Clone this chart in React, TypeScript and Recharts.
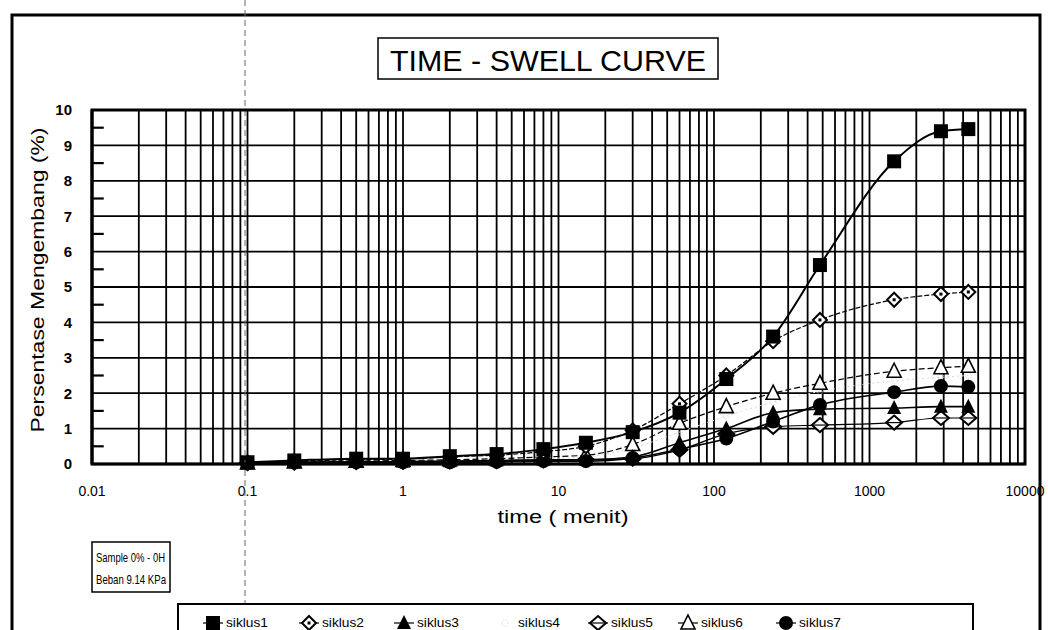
import React from "react";
import {
  LineChart,
  Line,
  XAxis,
  YAxis,
  CartesianGrid,
  ReferenceLine,
} from "recharts";

// waktu pembacaan (menit)
const times = [0.1, 0.2, 0.5, 1, 2, 4, 8, 15, 30, 60, 120, 240, 480, 1440, 2880, 4320];

// persentase mengembang (%) tiap siklus
const siklus1 = [0.05, 0.1, 0.15, 0.15, 0.22, 0.28, 0.42, 0.6, 0.9, 1.45, 2.4, 3.6, 5.62, 8.55, 9.4, 9.46];
const siklus2 = [0.04, 0.08, 0.12, 0.14, 0.2, 0.25, 0.35, 0.5, 0.95, 1.7, 2.5, 3.47, 4.07, 4.64, 4.8, 4.86];
const siklus3 = [0.02, 0.05, 0.06, 0.07, 0.08, 0.1, 0.12, 0.12, 0.2, 0.6, 1.0, 1.45, 1.55, 1.58, 1.62, 1.62];
const siklus4 = [0.03, 0.05, 0.07, 0.08, 0.1, 0.12, 0.15, 0.2, 0.45, 0.9, 1.35, 1.75, 2.05, 2.35, 2.45, 2.5];
const siklus5 = [0.02, 0.04, 0.05, 0.06, 0.07, 0.08, 0.1, 0.12, 0.15, 0.4, 0.85, 1.05, 1.1, 1.17, 1.3, 1.3];
const siklus6 = [0.03, 0.06, 0.08, 0.1, 0.12, 0.15, 0.2, 0.25, 0.55, 1.15, 1.62, 2.0, 2.28, 2.62, 2.72, 2.76];
const siklus7 = [0.02, 0.04, 0.05, 0.05, 0.05, 0.06, 0.08, 0.08, 0.17, 0.42, 0.72, 1.2, 1.67, 2.03, 2.2, 2.18];

const xTicks = [0.01, 0.1, 1, 10, 100, 1000, 10000];
const yTicks = [0, 1, 2, 3, 4, 5, 6, 7, 8, 9, 10];
const yMinorTicks = [0.5, 1.5, 2.5, 3.5, 4.5, 5.5, 6.5, 7.5, 8.5, 9.5];

const data = times.map((t, i) => ({
  t,
  s1: siklus1[i],
  s2: siklus2[i],
  s3: siklus3[i],
  s4: siklus4[i],
  s5: siklus5[i],
  s6: siklus6[i],
  s7: siklus7[i],
}));

// garis grid log (1..9 tiap dekade)
const gridX: number[] = [];
[0.01, 0.1, 1, 10, 100, 1000].forEach((d) => {
  for (let m = 1; m <= 9; m++) {
    if (d === 0.01 && m === 1) continue;
    gridX.push(+(d * m).toPrecision(3));
  }
});

const FONT = "'Liberation Sans', Arial, sans-serif";

type Kind = "s1" | "s2" | "s3" | "s4" | "s5" | "s6" | "s7";

function Marker({ kind, cx, cy }: { kind: Kind; cx: number; cy: number }) {
  switch (kind) {
    case "s1":
      return <rect x={cx - 7} y={cy - 7} width={14} height={14} fill="#000" />;
    case "s2":
      return (
        <g>
          <polygon
            points={`${cx},${cy - 7} ${cx + 7},${cy} ${cx},${cy + 7} ${cx - 7},${cy}`}
            fill="#fff"
            stroke="#000"
            strokeWidth={2}
          />
          <rect x={cx - 1.5} y={cy - 1.5} width={3} height={3} fill="#000" />
        </g>
      );
    case "s3":
      return (
        <polygon
          points={`${cx},${cy - 8} ${cx + 7},${cy + 6} ${cx - 7},${cy + 6}`}
          fill="#000"
        />
      );
    case "s4":
      return <circle cx={cx} cy={cy} r={3} fill="none" stroke="#d6d6d6" strokeWidth={1} strokeDasharray="1 1" />;
    case "s5":
      return (
        <g>
          <polygon
            points={`${cx},${cy - 7} ${cx + 8},${cy} ${cx},${cy + 7} ${cx - 8},${cy}`}
            fill="#fff"
            stroke="#000"
            strokeWidth={2}
          />
          <line x1={cx - 8} x2={cx + 8} y1={cy} y2={cy} stroke="#000" strokeWidth={1.2} />
        </g>
      );
    case "s6":
      return (
        <polygon
          points={`${cx},${cy - 8} ${cx + 7},${cy + 6} ${cx - 7},${cy + 6}`}
          fill="#fff"
          stroke="#000"
          strokeWidth={1.6}
        />
      );
    case "s7":
      return <circle cx={cx} cy={cy} r={7} fill="#000" />;
  }
  return null;
}

const dotFor = (kind: Kind) => (p: any) => {
  if (p.cx == null || p.cy == null) return <g key={`${kind}-${p.index}`} />;
  return (
    <g key={`${kind}-${p.index}`}>
      <Marker kind={kind} cx={p.cx} cy={p.cy} />
    </g>
  );
};

const series: { key: Kind; name: string; stroke: string; width: number; dash?: string }[] = [
  { key: "s4", name: "siklus4", stroke: "#d9d9d9", width: 1, dash: "2 3" },
  { key: "s5", name: "siklus5", stroke: "#000", width: 1.2 },
  { key: "s6", name: "siklus6", stroke: "#000", width: 1.2, dash: "6 3" },
  { key: "s7", name: "siklus7", stroke: "#000", width: 1.6 },
  { key: "s3", name: "siklus3", stroke: "#000", width: 1.6 },
  { key: "s2", name: "siklus2", stroke: "#000", width: 1.2, dash: "5 2" },
  { key: "s1", name: "siklus1", stroke: "#000", width: 2 },
];

const legendItems: { key: Kind; name: string; x: number }[] = [
  { key: "s1", name: "siklus1", x: 213 },
  { key: "s2", name: "siklus2", x: 309 },
  { key: "s3", name: "siklus3", x: 404 },
  { key: "s4", name: "siklus4", x: 505 },
  { key: "s5", name: "siklus5", x: 598 },
  { key: "s6", name: "siklus6", x: 688 },
  { key: "s7", name: "siklus7", x: 786 },
];

function Overlay() {
  return (
    <svg
      width={1048}
      height={630}
      style={{ position: "absolute", left: 0, top: 0, pointerEvents: "none" }}
      fontFamily={FONT}
    >
      {/* bingkai luar */}
      <rect x={12} y={15} width={1028} height={640} fill="none" stroke="#000" strokeWidth={3} />
      {/* garis lipatan */}
      <line x1={245} x2={245} y1={0} y2={630} stroke="#666" strokeWidth={1} strokeDasharray="6 4" />
      {/* judul */}
      <rect x={378} y={38} width={340} height={41} fill="#fff" stroke="#000" strokeWidth={1.5} />
      <text x={548} y={71} textAnchor="middle" fontSize={30} textLength={316} lengthAdjust="spacingAndGlyphs">
        TIME - SWELL CURVE
      </text>
      {/* label sumbu */}
      <text
        x={0}
        y={0}
        transform="translate(44,280) rotate(-90)"
        textAnchor="middle"
        fontSize={18}
        textLength={305}
        lengthAdjust="spacingAndGlyphs"
      >
        Persentase Mengembang (%)
      </text>
      <text x={563} y={523} textAnchor="middle" fontSize={19} textLength={131} lengthAdjust="spacingAndGlyphs">
        time ( menit)
      </text>
      {/* kotak keterangan */}
      <rect x={92} y={542} width={78} height={50} fill="#fff" stroke="#000" strokeWidth={1.5} />
      <text x={96} y={562} fontSize={13} textLength={69} lengthAdjust="spacingAndGlyphs">
        Sample 0% - 0H
      </text>
      <text x={96} y={584} fontSize={13} textLength={70} lengthAdjust="spacingAndGlyphs">
        Beban 9.14 KPa
      </text>
      {/* legenda */}
      <rect x={178} y={604} width={795} height={33} fill="#fff" stroke="#000" strokeWidth={2} />
      {legendItems.map((it) => (
        <g key={it.key}>
          {it.key !== "s4" && (
            <line x1={it.x - 10} x2={it.x + 10} y1={623} y2={623} stroke="#000" strokeWidth={1.2} />
          )}
          <Marker kind={it.key} cx={it.x} cy={623} />
          <text x={it.x + 13} y={627} fontSize={13} textLength={42} lengthAdjust="spacingAndGlyphs">
            {it.name}
          </text>
        </g>
      ))}
      {/* bingkai area plot */}
      <rect x={92} y={110} width={933} height={354} fill="none" stroke="#000" strokeWidth={3} />
    </svg>
  );
}

export default function App() {
  return (
    <div style={{ position: "absolute", left: 0, top: 0, width: 1048, height: 630, background: "#fff" }}>
      <LineChart
        width={1048}
        height={630}
        data={data}
        margin={{ top: 110, right: 23, bottom: 136, left: 52 }}
      >
        <CartesianGrid vertical={false} stroke="#000" strokeWidth={1.8} />
        {gridX.map((v) => (
          <ReferenceLine key={`gx-${v}`} x={v} stroke="#000" strokeWidth={1.8} />
        ))}
        {yMinorTicks.map((v) => (
          <ReferenceLine
            key={`my-${v}`}
            segment={[
              { x: 0.01, y: v },
              { x: 0.0119, y: v },
            ]}
            stroke="#000"
            strokeWidth={2.2}
          />
        ))}
        <XAxis
          dataKey="t"
          type="number"
          scale="log"
          domain={[0.01, 10000]}
          ticks={xTicks}
          allowDataOverflow
          height={30}
          tickLine={false}
          tickMargin={16}
          axisLine={{ stroke: "#000", strokeWidth: 2.5 }}
          tick={{ fontSize: 14, fill: "#000", fontFamily: FONT }}
          interval={0}
        />
        <YAxis
          type="number"
          domain={[0, 10]}
          ticks={yTicks}
          width={40}
          interval={0}
          tickLine={false}
          tickMargin={14}
          axisLine={{ stroke: "#000", strokeWidth: 3 }}
          tick={{ fontSize: 15, fill: "#000", fontFamily: FONT, fontWeight: "bold" }}
        />
        {series.map((s) => (
          <Line
            key={s.key}
            dataKey={s.key}
            name={s.name}
            type="monotone"
            stroke={s.stroke}
            strokeWidth={s.width}
            strokeDasharray={s.dash}
            dot={dotFor(s.key)}
            activeDot={false}
            isAnimationActive={false}
          />
        ))}
      </LineChart>
      <Overlay />
    </div>
  );
}
